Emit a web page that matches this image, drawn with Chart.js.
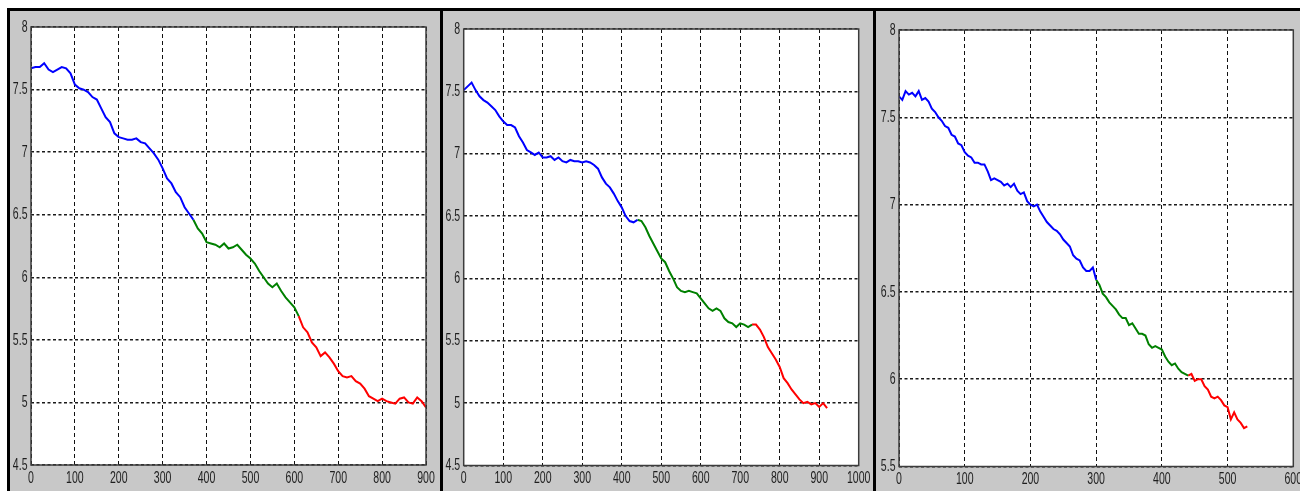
<!DOCTYPE html>
<html>
<head>
<meta charset="utf-8">
<script src="https://cdn.jsdelivr.net/npm/chart.js@4"></script>
<style>
  html, body { margin: 0; padding: 0; background: #fff; }
  body { width: 1300px; height: 491px; position: relative; overflow: hidden; }
  .panel { position: absolute; top: 8px; height: 483px; box-sizing: border-box;
           background: #c8c8c8; border-top: 3px solid #000; border-left: 3px solid #000; }
  canvas { position: absolute; }
</style>
</head>
<body>
<div class="panel" style="left:7px;width:433px"></div>
<div class="panel" style="left:440px;width:433px"></div>
<div class="panel" style="left:873px;width:427px"></div>
<canvas id="run1" width="430" height="480" style="left:10px;top:11px"></canvas>
<canvas id="run2" width="430" height="480" style="left:443px;top:11px"></canvas>
<canvas id="run3" width="424" height="480" style="left:876px;top:11px"></canvas>
<script>
// run 1: samples every 10, blue from 0, green from 370, red from 610
var run1Step = 10;
var run1Blue = [7.67,7.68,7.68,7.71,7.66,7.64,7.66,7.68,7.67,7.63,7.54,7.51,7.50,7.48,7.44,7.42,7.35,7.28,7.24,7.15,
                7.12,7.11,7.10,7.10,7.11,7.08,7.07,7.03,6.99,6.94,6.87,6.79,6.75,6.68,6.64,6.56,6.51,6.46];
var run1Green = [6.46,6.39,6.35,6.28,6.27,6.26,6.24,6.27,6.23,6.24,6.26,6.22,6.18,6.15,6.11,6.05,6.00,5.95,5.92,5.95,
                 5.89,5.84,5.80,5.76,5.69];
var run1Red = [5.69,5.60,5.56,5.48,5.44,5.37,5.40,5.36,5.31,5.25,5.21,5.20,5.21,5.17,5.15,5.11,5.05,5.03,5.01,5.03,
               5.01,5.00,4.99,5.03,5.04,5.00,4.99,5.04,5.01,4.96];

// run 2: samples every 10, blue from 0, green from 440, red from 730
var run2Step = 10;
var run2Blue = [7.51,7.54,7.57,7.51,7.46,7.43,7.41,7.38,7.35,7.30,7.26,7.23,7.23,7.21,7.14,7.09,7.03,7.01,6.99,7.01,
                6.97,6.97,6.98,6.95,6.97,6.94,6.93,6.95,6.94,6.94,6.93,6.94,6.93,6.91,6.88,6.81,6.76,6.73,6.68,6.62,
                6.57,6.50,6.46,6.45,6.47];
var run2Green = [6.47,6.46,6.41,6.34,6.28,6.22,6.16,6.13,6.06,6.00,5.93,5.90,5.89,5.90,5.89,5.88,5.84,5.80,5.76,5.74,
                 5.76,5.74,5.68,5.65,5.64,5.61,5.64,5.63,5.61,5.63];
var run2Red = [5.63,5.63,5.59,5.53,5.45,5.40,5.35,5.29,5.20,5.16,5.11,5.07,5.03,5.00,5.01,4.99,5.00,4.97,5.00,4.96];

// run 3: samples every 5, blue from 0, green from 300, red from 440
var run3Step = 5;
var run3Blue = [7.62,7.60,7.65,7.63,7.64,7.62,7.65,7.60,7.61,7.59,7.55,7.53,7.50,7.48,7.45,7.44,7.40,7.39,7.35,7.34,
                7.30,7.28,7.27,7.24,7.24,7.23,7.23,7.19,7.14,7.15,7.14,7.13,7.11,7.12,7.10,7.12,7.08,7.06,7.07,7.02,
                7.00,6.99,7.00,6.96,6.93,6.90,6.88,6.86,6.85,6.83,6.80,6.78,6.76,6.71,6.69,6.68,6.64,6.62,6.62,6.64,
                6.57];
var run3Green = [6.57,6.54,6.49,6.47,6.44,6.42,6.40,6.37,6.35,6.35,6.31,6.32,6.29,6.26,6.26,6.25,6.20,6.18,6.19,6.18,
                 6.17,6.13,6.10,6.08,6.09,6.06,6.04,6.03,6.02];
var run3Red = [6.02,6.03,5.99,6.00,6.00,5.96,5.94,5.90,5.89,5.90,5.88,5.85,5.84,5.77,5.81,5.77,5.75,5.72,5.73];

function toPoints(values, start, step) {
    return values.map(function (v, i) { return { x: start + i * step, y: v }; });
}

function segment(values, start, step, color) {
    return {
        data: toPoints(values, start, step),
        borderColor: color,
        borderWidth: 2,
        pointRadius: 0,
        tension: 0,
        fill: false
    };
}

// matlab style: white axes, frame round them and narrow tick labels
var matlabLook = {
    id: 'matlabLook',
    beforeDraw: function (chart) {
        var ctx = chart.ctx, a = chart.chartArea;
        ctx.save();
        ctx.fillStyle = '#fff';
        ctx.fillRect(a.left, a.top, a.right - a.left, a.bottom - a.top);
        ctx.restore();
    },
    afterDraw: function (chart) {
        var ctx = chart.ctx, a = chart.chartArea;
        var x = chart.scales.x, y = chart.scales.y;
        ctx.save();
        ctx.strokeStyle = '#3c3c3c';
        ctx.lineWidth = 1.5;
        ctx.strokeRect(a.left, a.top, a.right - a.left, a.bottom - a.top);
        ctx.fillStyle = '#1e1e1e';
        ctx.font = '17px "Liberation Sans", Arial, sans-serif';
        ctx.textBaseline = 'middle';
        y.ticks.forEach(function (t, i) {
            ctx.save();
            ctx.translate(a.left - 3.5, y.getPixelForTick(i));
            ctx.scale(0.62, 1);
            ctx.textAlign = 'right';
            ctx.fillText(String(t.value), 0, 0);
            ctx.restore();
        });
        x.ticks.forEach(function (t, i) {
            ctx.save();
            ctx.translate(x.getPixelForTick(i), a.bottom + 13);
            ctx.scale(0.62, 1);
            ctx.textAlign = 'center';
            ctx.fillText(String(t.value), 0, 0);
            ctx.restore();
        });
        ctx.restore();
    }
};

function makeRun(id, datasets, xMax, yMin, pad) {
    return new Chart(document.getElementById(id), {
        type: 'line',
        data: { datasets: datasets },
        plugins: [matlabLook],
        options: {
            responsive: false,
            animation: false,
            layout: { padding: pad },
            plugins: { legend: { display: false }, tooltip: { enabled: false } },
            scales: {
                x: {
                    type: 'linear', min: 0, max: xMax,
                    ticks: { stepSize: 100, display: false },
                    grid: { color: '#111', lineWidth: 1, drawTicks: false },
                    border: { display: false, dash: [4, 3] },
                    afterFit: function (s) { s.height = 0; }
                },
                y: {
                    min: yMin, max: 8,
                    ticks: { stepSize: 0.5, display: false },
                    grid: { color: '#1a1a1a', lineWidth: 1.5, drawTicks: false },
                    border: { display: false, dash: [3, 2.5] },
                    afterFit: function (s) { s.width = 0; }
                }
            }
        }
    });
}

makeRun('run1', [
    segment(run1Blue, 0, run1Step, '#0000ff'),
    segment(run1Green, 370, run1Step, '#008000'),
    segment(run1Red, 610, run1Step, '#ff0000')
], 900, 4.5, { left: 21, top: 16, right: 14, bottom: 26 });

makeRun('run2', [
    segment(run2Blue, 0, run2Step, '#0000ff'),
    segment(run2Green, 440, run2Step, '#008000'),
    segment(run2Red, 730, run2Step, '#ff0000')
], 1000, 4.5, { left: 20.7, top: 18, right: 14.3, bottom: 25.5 });

makeRun('run3', [
    segment(run3Blue, 0, run3Step, '#0000ff'),
    segment(run3Green, 300, run3Step, '#008000'),
    segment(run3Red, 440, run3Step, '#ff0000')
], 600, 5.5, { left: 23, top: 19, right: 6.7, bottom: 24.5 });
</script>
</body>
</html>
